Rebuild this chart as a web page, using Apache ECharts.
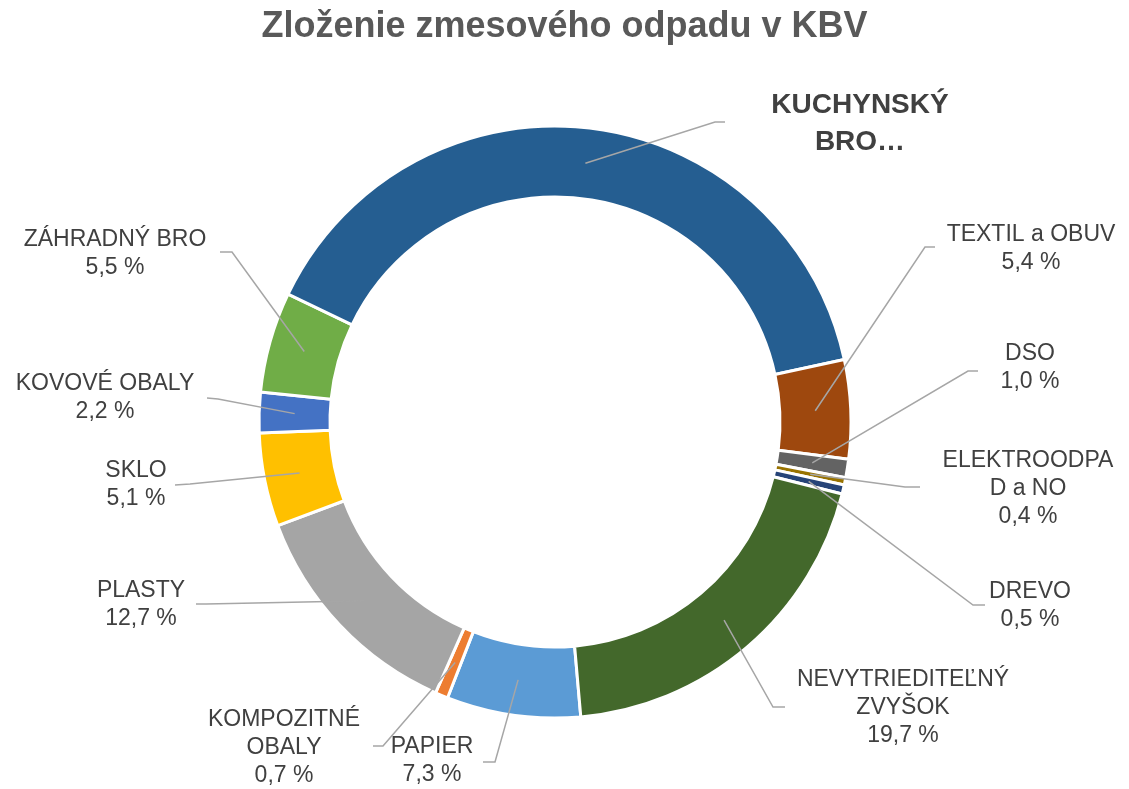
<!DOCTYPE html>
<html>
<head>
<meta charset="utf-8">
<title>Zloženie zmesového odpadu v KBV</title>
<script src="https://cdn.jsdelivr.net/npm/echarts@6/dist/echarts.min.js"></script>
<style>
  html, body { margin: 0; padding: 0; background: #fff; }
  #chart { width: 1129px; height: 789px; }
</style>
</head>
<body>
<div id="chart"></div>
<script>
// data (in Excel series order, drawn clockwise)
var categories = ['PAPIER', 'KOMPOZITNÉ\nOBALY', 'PLASTY', 'SKLO', 'KOVOVÉ OBALY', 'ZÁHRADNÝ BRO',
  'KUCHYNSKÝ\nBRO…', 'TEXTIL a OBUV', 'DSO', 'ELEKTROODPA\nD a NO', 'DREVO', 'NEVYTRIEDITEĽNÝ\nZVYŠOK'];
var shares = [7.3, 0.7, 12.7, 5.1, 2.2, 5.5, 39.5, 5.4, 1.0, 0.4, 0.5, 19.7];
var colors = ['#5B9BD5', '#ED7D31', '#A5A5A5', '#FFC000', '#4472C4', '#70AD47',
  '#255E91', '#9E480E', '#636363', '#997300', '#264478', '#43682B'];

// label placement: [centre x, centre y], leader elbow, leader tail
var labelPos = [[432, 761], [284, 748], [141, 605], [136, 485], [105, 398], [115, 254],
  [860, 124], [1031, 249], [1030, 368], [1028, 489], [1030, 606], [903, 708]];
var elbows = [[495, 762], [383, 746], [206, 604], [190, 484], [218, 399], [232, 252],
  [715, 122], [925, 247], [968, 371], [905, 487], [973, 605], [773, 707]];
var tails = [[483, 762], [373, 746], [196, 604], [175, 485], [207, 398], [220, 252],
  [725, 122], [935, 247], [978, 371], [920, 487], [985, 605], [785, 707]];

var CX = 555, CY = 422, R0 = 225, R1 = 296, START = 175; // degrees clockwise from 12 o'clock

function fmt(v) {
  return v.toFixed(1).replace('.', ',') + ' %';
}

// mid point of a slice (for the leader line start)
var total = shares.reduce(function (a, b) { return a + b; }, 0);
function sliceMid(idx) {
  var before = 0;
  for (var i = 0; i < idx; i++) before += shares[i];
  var a = (START + (before + shares[idx] / 2) / total * 360) * Math.PI / 180;
  var rm = (R0 + R1) / 2;
  return [CX + rm * Math.sin(a), CY - rm * Math.cos(a)];
}

var chart = echarts.init(document.getElementById('chart'));

var ringData = categories.map(function (name, i) {
  return { name: name, value: shares[i], itemStyle: { color: colors[i] } };
});

// same slices, transparent, only to carry labels + leader lines above the ring
var labelData = categories.map(function (name, i) {
  var item = { name: name, value: shares[i] };
  if (i === 6) {
    item.label = {
      formatter: '{b}',
      fontSize: 28,
      fontWeight: 'bold',
      lineHeight: 37
    };
  }
  return item;
});

var option = {
  backgroundColor: '#fff',
  animation: false,
  title: {
    text: 'Zloženie zmesového odpadu v KBV',
    left: 'center',
    top: 4,
    textStyle: {
      fontFamily: 'Liberation Sans, Arial, sans-serif',
      fontSize: 36,
      fontWeight: 'bold',
      color: '#595959'
    }
  },
  series: [
    {
      type: 'pie',
      z: 2,
      center: [CX, CY],
      radius: [R0, R1],
      startAngle: 90 - START,
      clockwise: true,
      itemStyle: {
        borderColor: '#fff',
        borderWidth: 3
      },
      label: { show: false },
      labelLine: { show: false },
      data: ringData
    },
    {
      type: 'pie',
      z: 5,
      silent: true,
      center: [CX, CY],
      radius: [R0, R1],
      startAngle: 90 - START,
      clockwise: true,
      avoidLabelOverlap: false,
      itemStyle: {
        color: 'rgba(0,0,0,0)',
        borderWidth: 0
      },
      label: {
        show: true,
        position: 'outside',
        fontFamily: 'Liberation Sans, Arial, sans-serif',
        fontSize: 23,
        lineHeight: 28,
        color: '#404040',
        align: 'center',
        formatter: function (p) {
          return p.name + '\n' + fmt(p.value);
        }
      },
      labelLine: {
        show: true,
        lineStyle: { color: '#A6A6A6', width: 1.5 }
      },
      labelLayout: function (params) {
        var i = params.dataIndex;
        return {
          x: labelPos[i][0],
          y: labelPos[i][1],
          align: 'center',
          verticalAlign: 'middle',
          hideOverlap: false,
          labelLinePoints: [sliceMid(i), elbows[i], tails[i]]
        };
      },
      data: labelData
    }
  ]
};

chart.setOption(option);
</script>
</body>
</html>
